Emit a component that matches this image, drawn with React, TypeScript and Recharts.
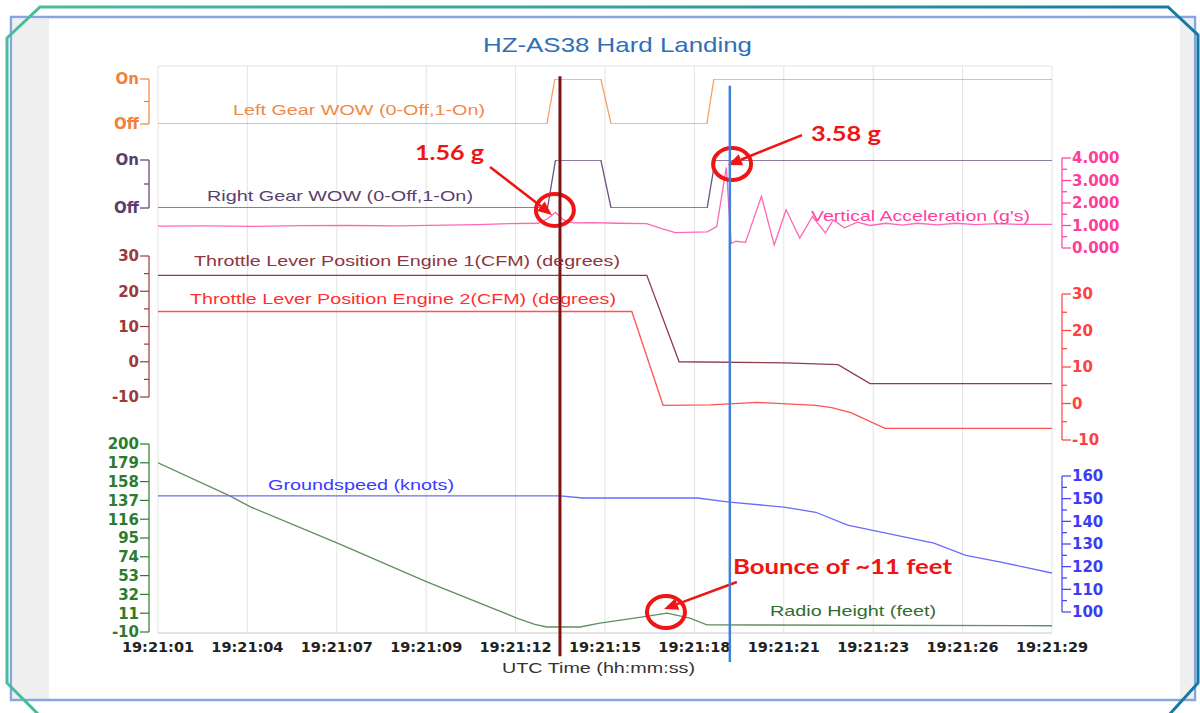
import React from 'react';
import { LineChart, Line, XAxis, YAxis, CartesianGrid, ReferenceLine, ReferenceDot } from 'recharts';

// time is seconds past 19:21:00
const timeTicks = [1, 3.8, 6.6, 9.4, 12.2, 15, 17.8, 20.6, 23.4, 26.2, 29];
const timeLabels = ['19:21:01', '19:21:04', '19:21:07', '19:21:09', '19:21:12', '19:21:15', '19:21:18', '19:21:21', '19:21:23', '19:21:26', '19:21:29'];
const gridRows = [0, 1, 2, 3, 4, 5, 6, 7, 8, 9, 10];

const leftGearT = [1, 13.18, 13.43, 14.87, 15.19, 18.19, 18.41, 29];
const leftGearWow = [0, 0, 1, 1, 0, 0, 1, 1];

const rightGearT = [1, 13.2, 13.45, 14.87, 15.19, 18.2, 18.45, 29];
const rightGearWow = [0, 0, 1, 1, 0, 0, 1, 1];

const vertAccT = [1, 2.5, 4, 5.5, 7, 8.5, 10, 11, 12, 12.9, 13.2, 13.45, 13.7, 14.0, 14.6, 15.4, 16.3, 16.8, 17.2, 18.2, 18.5, 18.8, 18.95, 19.1, 19.4, 19.9, 20.3, 20.67, 21.1, 21.5, 21.9, 22.15, 22.5, 22.9, 23.3, 23.8, 24.3, 24.8, 25.4, 26, 26.6, 27.3, 28, 29];
const vertAccG = [0.97, 0.98, 0.96, 0.99, 1.0, 0.98, 1.02, 1.04, 1.08, 1.1, 1.3, 1.58, 1.25, 1.12, 1.13, 1.1, 1.08, 0.85, 0.68, 0.72, 0.95, 3.58, 0.2, 0.3, 0.25, 2.3, 0.13, 1.7, 0.44, 1.4, 0.67, 1.25, 0.9, 1.15, 1.0, 1.1, 1.02, 1.1, 1.03, 1.1, 1.04, 1.08, 1.05, 1.05];

const eng1T = [1, 16.31, 17.32, 20.64, 22.3, 23.3, 29];
const eng1Deg = [24.5, 24.5, 0, -0.3, -0.8, -6.2, -6.2];

const eng2T = [1, 15.84, 16.82, 18.3, 19.76, 21.6, 22.1, 22.7, 23.77, 29];
const eng2Deg = [25.2, 25.2, -0.5, -0.4, 0.3, -0.5, -1.1, -2.5, -6.8, -6.8];

const radioT = [1, 3.25, 3.88, 6.64, 9.42, 12.24, 12.8, 13.18, 14.22, 14.84, 16.19, 16.94, 17.66, 18.19, 29];
const radioFt = [179, 142, 130, 89, 46, 5.6, -1.5, -4.4, -4.4, 0, 6.8, 11, 5.6, -2, -3];

const groundT = [1, 13.6, 14.3, 17.9, 18.9, 20.6, 21.6, 22.6, 25.3, 26.3, 27.4, 29];
const groundKt = [151.2, 151.2, 150.3, 150.3, 148.5, 146.3, 144, 138.3, 130.4, 125, 122, 117.2];

const gearTicks = [0, 0.5, 1];
const accTicks = [0, 0.5, 1, 1.5, 2, 2.5, 3, 3.5, 4];
const tlaTicks = [-10, -5, 0, 5, 10, 15, 20, 25, 30];
const radioTicks = [-10, 11, 32, 53, 74, 95, 116, 137, 158, 179, 200];
const groundTicks = [100, 105, 110, 115, 120, 125, 130, 135, 140, 145, 150, 155, 160];

const seriesNames = [
  'Left Gear WOW (0-Off,1-On)',
  'Right Gear WOW (0-Off,1-On)',
  "Vertical Acceleration (g's)",
  'Throttle Lever Position Engine 1(CFM) (degrees)',
  'Throttle Lever Position Engine 2(CFM) (degrees)',
  'Groundspeed (knots)',
  'Radio Height (feet)',
];
const callouts = ['1.56 g', '3.58 g', 'Bounce of ~11 feet'];

// cursor lines (time, top and bottom in grid units)
const cursorT = [13.59, 18.91];
const cursorTop = [9.82, 9.65];
const cursorBottom = [-0.41, -0.51];

const W = 1200;
const H = 713;
const PLOT_L = 158;
const PLOT_R = 1052;
const AXIS_L = 149;
const AXIS_R = 1062;
const YW = 60;
const RED = '#f01414';

const zip = (ts: number[], vs: number[]) => ts.map((t, i) => ({ t, v: vs[i] }));

const axisTick = (side: 'left' | 'right', color: string, fmt: (v: number) => string) => (p: any) => {
  const v = p.payload.value;
  const d = side === 'left' ? -1 : 1;
  const small = fmt(v) === '';
  const len = small ? 5 : 9;
  return (
    <g>
      <line x1={p.x} y1={p.y} x2={p.x + d * len} y2={p.y} stroke={color} strokeWidth={1.2} />
      {!small && (
        <text x={p.x + d * (len + 1)} y={p.y} dy="0.36em" textAnchor={side === 'left' ? 'end' : 'start'}
          fill={color} fontSize={15} fontWeight={700} fontFamily="DejaVu Sans, sans-serif">
          {fmt(v)}
        </text>
      )}
    </g>
  );
};

const arrow = (p: any) => {
  const { x1, y1, x2, y2 } = p;
  const a = Math.atan2(y2 - y1, x2 - x1);
  const bx = x2 - 14 * Math.cos(a);
  const by = y2 - 14 * Math.sin(a);
  const s = Math.sin(a) * 6;
  const c = Math.cos(a) * 6;
  return (
    <g>
      <line x1={x1} y1={y1} x2={bx} y2={by} stroke={RED} strokeWidth={2.5} />
      <polygon points={`${x2},${y2} ${bx - s},${by + c} ${bx + s},${by - c}`} fill={RED} />
    </g>
  );
};

const ring = (p: any) => (
  <ellipse cx={p.cx} cy={p.cy} rx={19} ry={16} fill="none" stroke={RED} strokeWidth={4} />
);

interface PanelProps {
  top: number;
  bottom: number;
  pad?: number;
  side: 'left' | 'right';
  domain: [number, number];
  ticks: number[];
  fmt: (v: number) => string;
  color: string;
  lineColor: string;
  data: { t: number; v: number }[];
  children?: React.ReactNode;
}

const Panel = ({ top, bottom, pad = 14, side, domain, ticks, fmt, color, lineColor, data, children }: PanelProps) => (
  <div style={{ position: 'absolute', left: 0, top: top - pad }}>
    <LineChart
      width={W}
      height={bottom - top + pad * 2}
      data={data}
      margin={{
        top: pad,
        bottom: pad,
        left: side === 'left' ? AXIS_L - YW : AXIS_L,
        right: side === 'right' ? W - AXIS_R - YW : W - AXIS_R,
      }}
    >
      <XAxis dataKey="t" type="number" domain={[1, 29]} hide allowDataOverflow
        padding={{ left: PLOT_L - AXIS_L, right: AXIS_R - PLOT_R }} />
      <YAxis orientation={side} width={YW} type="number" domain={domain} ticks={ticks} interval={0}
        allowDataOverflow tickSize={0} tickMargin={0} tickLine={false}
        axisLine={{ stroke: color, strokeWidth: 1.2 }} tick={axisTick(side, color, fmt)} />
      <Line dataKey="v" type="linear" stroke={lineColor} strokeWidth={1.3} dot={false} activeDot={false} isAnimationActive={false} />
      {children}
    </LineChart>
  </div>
);

const onOff = (v: number) => (v === 1 ? 'On' : v === 0 ? 'Off' : '');
const threeDp = (v: number) => (Number.isInteger(v) ? v.toFixed(3) : '');
const tens = (v: number) => (v % 10 === 0 ? String(v) : '');
const plain = (v: number) => String(v);

const Label = ({ x, y, len, color, size = 15, bold = false, font = 'Liberation Sans, Arial, sans-serif', children }: any) => (
  <text x={x} y={y} textLength={len} lengthAdjust="spacingAndGlyphs" fill={color} fontSize={size}
    fontWeight={bold ? 700 : 400} fontFamily={font}>
    {children}
  </text>
);

export default function App() {
  return (
    <div style={{ position: 'absolute', left: 0, top: 0, width: W, height: H, background: '#fff', overflow: 'hidden' }}>
      <svg width={W} height={H} style={{ position: 'absolute', left: 0, top: 0 }}>
        <defs>
          <linearGradient id="edge" x1="0" x2="1" y1="0" y2="0">
            <stop offset="0" stopColor="#49bd9a" />
            <stop offset="0.5" stopColor="#35a39f" />
            <stop offset="1" stopColor="#137aa7" />
          </linearGradient>
        </defs>
        <rect x={13} y={19} width={1180} height={680} fill="#efefef" />
        <rect x={49} y={19} width={1131} height={680} fill="#ffffff" />
        <rect x={11} y={17} width={1184} height={683} fill="none" stroke="#8aa5de" strokeWidth={2.5} />
        <polygon points="7,38 40,7 1168,7 1198,35 1198,683 1168,716 40,716 7,683" fill="none" stroke="url(#edge)" strokeWidth={3} />
      </svg>

      {/* grid and time axis */}
      <div style={{ position: 'absolute', left: 0, top: 0 }}>
        <LineChart width={W} height={H} data={timeTicks.map((t) => ({ t }))}
          margin={{ top: 66, bottom: 50, left: PLOT_L, right: W - PLOT_R }}>
          <CartesianGrid stroke="#e3e3e3" />
          <XAxis dataKey="t" type="number" domain={[1, 29]} ticks={timeTicks} interval={0} height={30}
            tickFormatter={(v: number) => timeLabels[timeTicks.indexOf(v)]}
            tickSize={0} tickMargin={9} axisLine={{ stroke: '#d6d6d6' }}
            tick={{ fill: '#222', fontSize: 14.5, fontWeight: 700, fontFamily: 'DejaVu Sans, sans-serif' }} />
          <YAxis type="number" domain={[0, 10]} ticks={gridRows} hide />
        </LineChart>
      </div>

      <Panel top={79} bottom={124} side="left" domain={[0, 1]} ticks={gearTicks} fmt={onOff}
        color="#f2823a" lineColor="#f7a065" data={zip(leftGearT, leftGearWow)} />
      <Panel top={160} bottom={208} side="left" domain={[0, 1]} ticks={gearTicks} fmt={onOff}
        color="#5a3d6e" lineColor="#6c5282" data={zip(rightGearT, rightGearWow)} />
      <Panel top={158} bottom={248} pad={34} side="right" domain={[0, 4]} ticks={accTicks} fmt={threeDp}
        color="#ff3d9a" lineColor="#ff66b3" data={zip(vertAccT, vertAccG)}>
        <ReferenceLine segment={[{ x: 11.4, y: 3.6 }, { x: 13.34, y: 1.47 }]} ifOverflow="visible" shape={arrow} />
        <ReferenceLine segment={[{ x: 21.17, y: 5.02 }, { x: 18.85, y: 3.69 }]} ifOverflow="visible" shape={arrow} />
        <ReferenceDot x={13.43} y={1.69} ifOverflow="visible" shape={ring} />
        <ReferenceDot x={18.98} y={3.73} ifOverflow="visible" shape={ring} />
      </Panel>
      <Panel top={256} bottom={397} side="left" domain={[-10, 30]} ticks={tlaTicks} fmt={tens}
        color="#9b3a3a" lineColor="#8e3c48" data={zip(eng1T, eng1Deg)} />
      <Panel top={294} bottom={440} side="right" domain={[-10, 30]} ticks={tlaTicks} fmt={tens}
        color="#ff4040" lineColor="#ff5252" data={zip(eng2T, eng2Deg)} />
      <Panel top={444} bottom={632} side="left" domain={[-10, 200]} ticks={radioTicks} fmt={plain}
        color="#2e7b2e" lineColor="#5f8f5f" data={zip(radioT, radioFt)}>
        <ReferenceLine segment={[{ x: 19.13, y: 45.9 }, { x: 16.85, y: 15.7 }]} ifOverflow="visible" shape={arrow} />
        <ReferenceDot x={16.91} y={12.3} ifOverflow="visible" shape={ring} />
      </Panel>
      <Panel top={476} bottom={612} side="right" domain={[100, 160]} ticks={groundTicks} fmt={tens}
        color="#3c3cf5" lineColor="#6a6aff" data={zip(groundT, groundKt)} />

      {/* cursor lines */}
      <div style={{ position: 'absolute', left: 0, top: 0 }}>
        <LineChart width={W} height={H} data={timeTicks.map((t) => ({ t }))}
          margin={{ top: 66, bottom: 50, left: PLOT_L, right: W - PLOT_R }}>
          <XAxis dataKey="t" type="number" domain={[1, 29]} ticks={timeTicks} height={30} tick={false}
            tickLine={false} axisLine={false} allowDataOverflow />
          <YAxis type="number" domain={[0, 10]} ticks={gridRows} hide allowDataOverflow />
          <ReferenceLine segment={[{ x: cursorT[0], y: cursorTop[0] }, { x: cursorT[0], y: cursorBottom[0] }]}
            ifOverflow="visible" stroke="#7d1212" strokeWidth={3} />
          <ReferenceLine segment={[{ x: cursorT[1], y: cursorTop[1] }, { x: cursorT[1], y: cursorBottom[1] }]}
            ifOverflow="visible" stroke="#3f80d8" strokeWidth={2.5} />
        </LineChart>
      </div>

      <svg width={W} height={H} style={{ position: 'absolute', left: 0, top: 0, pointerEvents: 'none' }}>
        <Label x={483} y={52} len={269} color="#2f6fb8" size={21}>HZ-AS38 Hard Landing</Label>
        <Label x={233} y={115} len={252} color="#f08a4a">{seriesNames[0]}</Label>
        <Label x={207} y={201} len={266} color="#5a3f6e">{seriesNames[1]}</Label>
        <Label x={811} y={221} len={219} color="#ff3f9f">{seriesNames[2]}</Label>
        <Label x={194} y={266} len={426} color="#8e3540">{seriesNames[3]}</Label>
        <Label x={190} y={304} len={426} color="#ff3030">{seriesNames[4]}</Label>
        <Label x={268} y={490} len={186} color="#3a3aff">{seriesNames[5]}</Label>
        <Label x={770} y={616} len={166} color="#2f6e2f">{seriesNames[6]}</Label>
        <Label x={502} y={673} len={193} color="#333">UTC Time (hh:mm:ss)</Label>
        <Label x={415} y={160} len={69} color={RED} size={21} bold font="Lato, sans-serif">{callouts[0]}</Label>
        <Label x={811} y={141} len={70} color={RED} size={21} bold font="Lato, sans-serif">{callouts[1]}</Label>
        <Label x={733} y={574} len={219} color={RED} size={21} bold font="Lato, sans-serif">{callouts[2]}</Label>
      </svg>
    </div>
  );
}
